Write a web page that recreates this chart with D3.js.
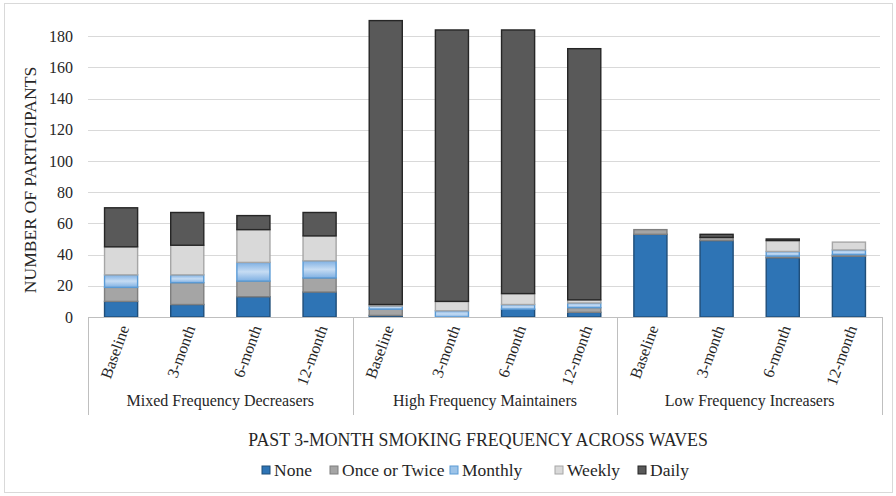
<!DOCTYPE html>
<html><head><meta charset="utf-8">
<script src="https://cdn.jsdelivr.net/npm/d3@7"></script>
<style>body{margin:0;background:#fff}svg{display:block}svg text{font-family:"Times New Roman","Liberation Serif",Tinos,"DejaVu Serif",serif !important}</style>
</head><body><svg id="c" width="896" height="496"></svg>
<script>
const groups = ["Mixed Frequency Decreasers","High Frequency Maintainers","Low Frequency Increasers"];
const waves = ["Baseline","3-month","6-month","12-month"];
const seriesNames = ["None","Once or Twice","Monthly","Weekly","Daily"];
// values per group per wave, in order of waves
const none    = [10, 8,13,16,  1, 0, 5, 3,  53,49,38,39];
const once    = [ 9,14,10, 9,  4, 0, 0, 3,   3, 2, 1, 1];
const monthly = [ 8, 5,12,11,  2, 4, 3, 3,   0, 0, 3, 3];
const weekly  = [18,19,21,16,  1, 6, 7, 2,   0, 0, 7, 5];
const daily   = [25,21, 9,15,182,174,169,161, 0, 2, 1, 0];
const yTicks = [0,20,40,60,80,100,120,140,160,180];

const fills = ["#2e74b5","#a5a5a5","#9cc3e8","#d9d9d9","#595959"];
const strokes = ["#1f4e79","#7f7f7f","#5b9bd5","#a6a6a6","#262626"];
const FONT = '"Times New Roman","Liberation Serif",Tinos,"DejaVu Serif",serif';

const svg = d3.select("#c");
svg.append("rect").attr("x",4.5).attr("y",3.5).attr("width",888).attr("height",489)
  .attr("fill","none").attr("stroke","#d9d9d9").attr("stroke-width",1);

const defs = svg.append("defs");
const lg = defs.append("linearGradient").attr("id","mg").attr("x1",0).attr("y1",0).attr("x2",0).attr("y2",1);
lg.append("stop").attr("offset","0%").attr("stop-color","#7fb0e3");
lg.append("stop").attr("offset","50%").attr("stop-color","#c6dcf3");
lg.append("stop").attr("offset","100%").attr("stop-color","#7fb0e3");

const cats = [];
groups.forEach((g,gi)=>waves.forEach((w,wi)=>cats.push({g,w,i:gi*4+wi})));
const x = d3.scaleBand().domain(cats.map(c=>c.i)).range([88,882]).paddingInner(0.5).paddingOuter(0.25);
const y = d3.scaleLinear().domain([0,200]).range([317,5]);

svg.append("g").selectAll("line").data(yTicks.filter(t=>t>0)).join("line")
  .attr("x1",88).attr("x2",880).attr("y1",d=>Math.round(y(d))+0.5).attr("y2",d=>Math.round(y(d))+0.5)
  .attr("stroke","#d9d9d9").attr("stroke-width",1);

const ya = svg.append("g").attr("transform","translate(88,0)")
  .call(d3.axisLeft(y).tickValues(yTicks).tickSize(0).tickPadding(15));
ya.attr("font-family",FONT);
ya.select(".domain").remove();
ya.selectAll("text").attr("font-family",FONT).attr("font-size",16).attr("fill","#262626");

const table = cats.map(c=>({i:c.i, None:none[c.i], "Once or Twice":once[c.i], Monthly:monthly[c.i], Weekly:weekly[c.i], Daily:daily[c.i]}));
const stack = d3.stack().keys(seriesNames)(table);
stack.forEach((layer,si)=>{
  svg.append("g").selectAll("rect").data(layer.filter(d=>d[1]-d[0]>0)).join("rect")
    .attr("x",d=>x(d.data.i)).attr("width",x.bandwidth())
    .attr("y",d=>y(d[1])).attr("height",d=>y(d[0])-y(d[1]))
    .attr("fill",si===2?"url(#mg)":fills[si]).attr("stroke",strokes[si]).attr("stroke-width",1.4);
});

svg.append("line").attr("x1",88).attr("x2",882).attr("y1",317.5).attr("y2",317.5).attr("stroke","#bfbfbf");
[88,352.7,617.3,882].forEach(px=>{
  svg.append("line").attr("x1",Math.round(px)+0.5).attr("x2",Math.round(px)+0.5).attr("y1",317).attr("y2",415).attr("stroke","#bfbfbf");
});
svg.append("g").selectAll("text").data(cats).join("text")
  .attr("transform",c=>`translate(${x(c.i)+x.bandwidth()/2+3},326) rotate(-70)`)
  .attr("text-anchor","end").attr("dy","0.35em").attr("font-family",FONT)
  .attr("font-size",16).attr("fill","#262626").text(c=>c.w);
const gx = d3.scaleBand().domain(groups).range([88,882]);
svg.append("g").selectAll("text").data(groups).join("text")
  .attr("x",g=>gx(g)+gx.bandwidth()/2).attr("y",406).attr("text-anchor","middle").attr("font-family",FONT)
  .attr("font-size",16).attr("fill","#262626").text(g=>g);

svg.append("text").attr("x",478).attr("y",446).attr("text-anchor","middle").attr("font-family",FONT)
  .attr("font-size",17.8).attr("fill","#262626").text("PAST 3-MONTH SMOKING FREQUENCY ACROSS WAVES");
svg.append("text").attr("transform","translate(36,180) rotate(-90)").attr("text-anchor","middle").attr("font-family",FONT)
  .attr("font-size",17.6).attr("fill","#262626").text("NUMBER OF PARTICIPANTS");

const legX = [262,330,450,555,638];
const leg = svg.append("g");
seriesNames.forEach((s,i)=>{
  leg.append("rect").attr("x",legX[i]).attr("y",466).attr("width",8).attr("height",8)
    .attr("fill",i===2?"#9cc3e8":fills[i]).attr("stroke",strokes[i]).attr("stroke-width",1);
  leg.append("text").attr("x",legX[i]+12).attr("y",476).attr("font-family",FONT).attr("font-size",17.5).attr("fill","#262626").text(s);
});
</script></body></html>
